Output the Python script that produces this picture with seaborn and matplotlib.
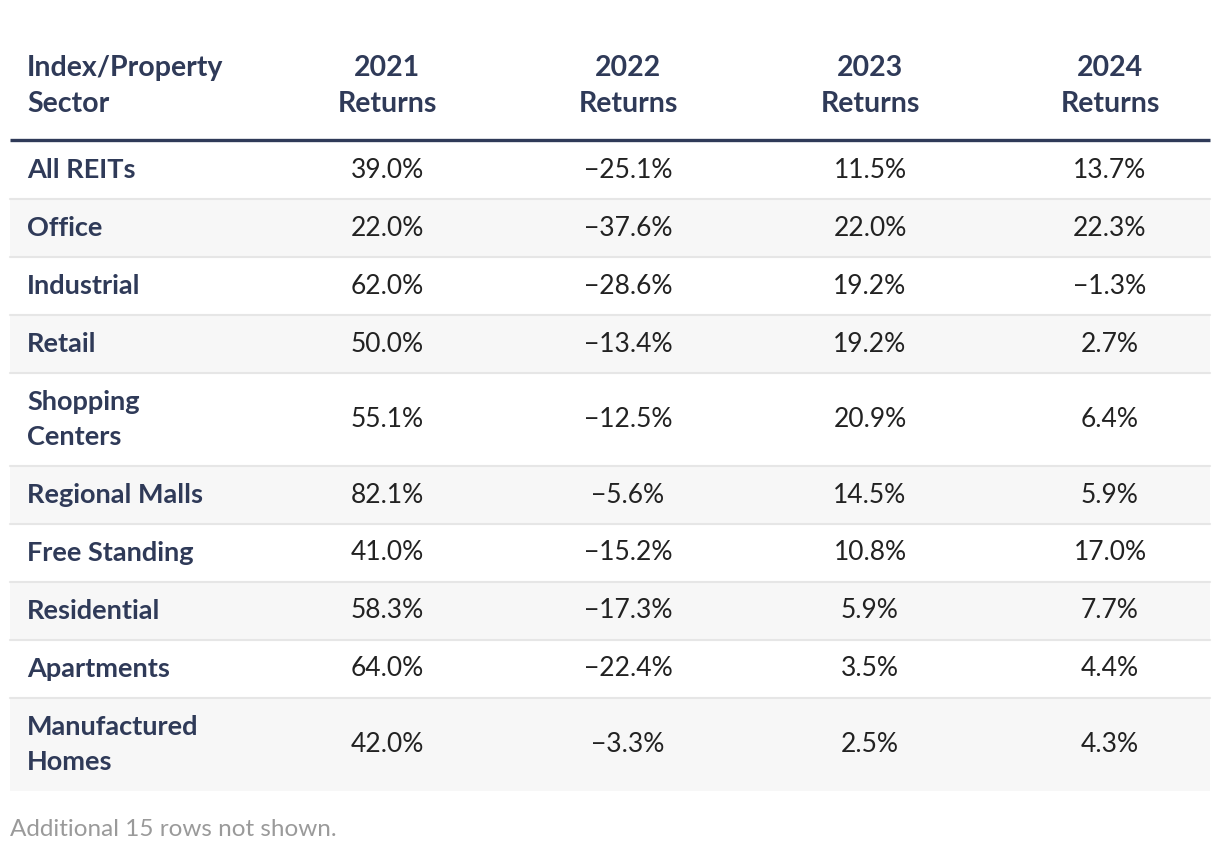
import matplotlib
matplotlib.use("Agg")
import matplotlib.pyplot as plt
from matplotlib.patches import Rectangle
import seaborn as sns
import pandas as pd

# Table content
sectors = ["All REITs", "Office", "Industrial", "Retail", "Shopping\nCenters",
           "Regional Malls", "Free Standing", "Residential", "Apartments",
           "Manufactured\nHomes"]
returns_2021 = [39.0, 22.0, 62.0, 50.0, 55.1, 82.1, 41.0, 58.3, 64.0, 42.0]
returns_2022 = [-25.1, -37.6, -28.6, -13.4, -12.5, -5.6, -15.2, -17.3, -22.4, -3.3]
returns_2023 = [11.5, 22.0, 19.2, 19.2, 20.9, 14.5, 10.8, 5.9, 3.5, 2.5]
returns_2024 = [13.7, 22.3, -1.3, 2.7, 6.4, 5.9, 17.0, 7.7, 4.4, 4.3]
headers = ["Index/Property\nSector", "2021\nReturns", "2022\nReturns",
           "2023\nReturns", "2024\nReturns"]
footnote = "Additional 15 rows not shown."

df = pd.DataFrame({
    "sector": sectors,
    "2021": returns_2021,
    "2022": returns_2022,
    "2023": returns_2023,
    "2024": returns_2024,
})

sns.set_theme(style="white")
plt.rcParams["font.family"] = ["Lato", "DejaVu Sans"]

NAVY = "#2f3a58"
TEXT = "#222222"
STRIPE = "#f7f7f7"
RULE = "#e6e6e6"


def fmt(v):
    s = f"{abs(v):.1f}%"
    return ("\u2212" + s) if v < 0 else s


fig = plt.figure(figsize=(12.2, 8.56), dpi=100)
ax = fig.add_axes([0, 0, 1, 1])
ax.set_xlim(0, 1220)
ax.set_ylim(856, 0)
ax.axis("off")

left, right = 10, 1210
label_x = 27
col_x = [387, 628, 870, 1110]

# header
ax.text(label_x, 86, headers[0], ha="left", va="center", fontsize=20.5,
        fontweight="bold", color=NAVY, linespacing=1.5)
for x, h in zip(col_x, headers[1:]):
    ax.text(x, 86, h, ha="center", va="center", fontsize=20.5,
            fontweight="bold", color=NAVY, linespacing=1.5)
ax.plot([left, right], [139.5, 139.5], color=NAVY, lw=2.4,
        solid_capstyle="butt")

# body rows
y = 141
for i, row in df.iterrows():
    h = 93 if "\n" in row["sector"] else 58
    if i % 2 == 1:
        ax.add_patch(Rectangle((left, y), right - left, h, color=STRIPE,
                               lw=0, zorder=0))
    yc = y + h / 2
    ax.text(label_x, yc, row["sector"], ha="left", va="center",
            fontsize=19.5, fontweight="bold", color=NAVY, linespacing=1.52)
    for x, col in zip(col_x, ["2021", "2022", "2023", "2024"]):
        ax.text(x, yc, fmt(row[col]), ha="center", va="center",
                fontsize=19, color=TEXT)
    y += h
    if i < len(df) - 1:
        ax.plot([left, right], [y, y], color=RULE, lw=1.5, zorder=1)

ax.text(left, 829, footnote, ha="left", va="center", fontsize=17.5,
        color="#9a9a9a")

fig.savefig("out.png", dpi=100)
